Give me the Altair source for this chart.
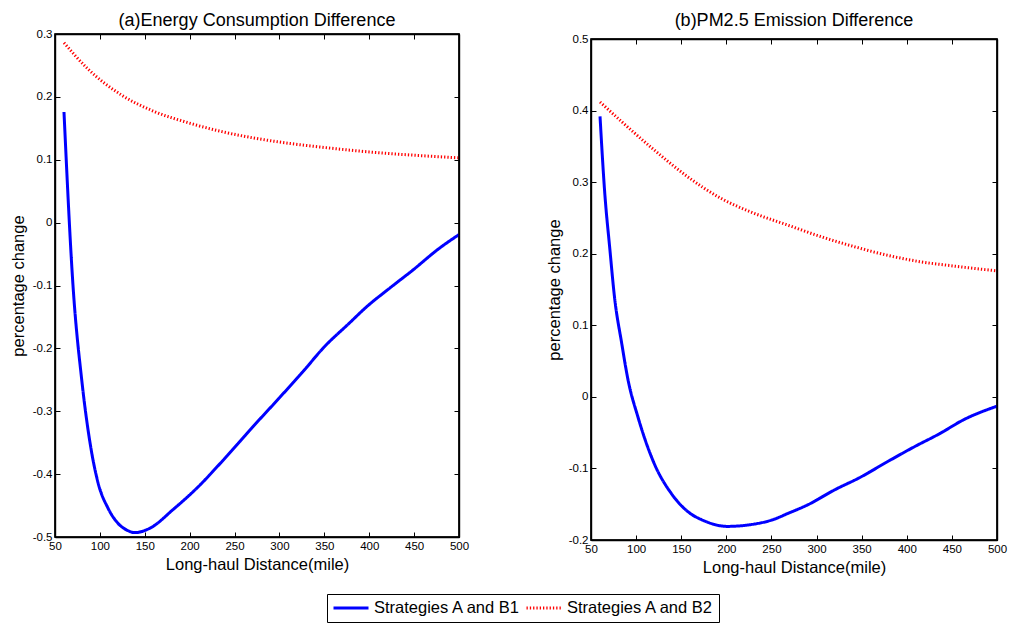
import altair as alt
import pandas as pd

FONT = "Liberation Sans"
series_names = ["Strategies A and B1", "Strategies A and B2"]
series_colors = ["#0000ff", "#ff0000"]

x_domain = [50, 500]
x_ticks = [50, 100, 150, 200, 250, 300, 350, 400, 450, 500]
y_domain_a = [-0.5, 0.3]
y_ticks_a = [-0.5, -0.4, -0.3, -0.2, -0.1, 0, 0.1, 0.2, 0.3]
y_domain_b = [-0.2, 0.5]
y_ticks_b = [-0.2, -0.1, 0, 0.1, 0.2, 0.3, 0.4, 0.5]

# (a) Energy consumption difference
a_b1_x = [60, 70, 80, 89, 98, 109, 120, 130, 139, 157, 181, 211, 234, 256, 269, 301, 328, 349, 377, 397, 423, 449, 477, 500]
a_b1_y = [0.176, -0.099, -0.253, -0.350, -0.414, -0.454, -0.478, -0.489, -0.493, -0.485, -0.457, -0.418, -0.383, -0.348, -0.327, -0.277, -0.234, -0.199, -0.161, -0.134, -0.104, -0.075, -0.042, -0.019]
a_b2_x = [60, 87, 124, 161, 198, 236, 273, 310, 347, 384, 421, 458, 500]
a_b2_y = [0.286, 0.244, 0.203, 0.1765, 0.159, 0.1447, 0.1342, 0.1262, 0.120, 0.1145, 0.110, 0.1065, 0.103]

# (b) PM2.5 emission difference
b_b1_x = [60, 65, 71, 76, 84, 91, 102, 120, 139, 157, 176, 201, 224, 253, 268, 290, 320, 349, 378, 408, 437, 463, 500]
b_b1_y = [0.392, 0.289, 0.205, 0.140, 0.075, 0.024, -0.028, -0.093, -0.135, -0.160, -0.1735, -0.181, -0.179, -0.171, -0.163, -0.151, -0.130, -0.112, -0.091, -0.070, -0.051, -0.032, -0.013]
b_b2_x = [60, 84, 120, 157, 194, 231, 268, 305, 342, 378, 415, 452, 500]
b_b2_y = [0.412, 0.3845, 0.345, 0.3076, 0.2774, 0.2564, 0.240, 0.2238, 0.2098, 0.198, 0.1888, 0.1828, 0.176]


def make_df(bx, by, rx, ry):
    rows = [{"d": x, "v": y, "s": series_names[0]} for x, y in zip(bx, by)]
    rows += [{"d": x, "v": y, "s": series_names[1]} for x, y in zip(rx, ry)]
    return pd.DataFrame(rows)


label_expr = "datum.value == 0 ? '0' : (datum.value < 0 ? '-' : '') + format(abs(datum.value), '.1f')"

legend = alt.Legend(
    title=None, orient="none", legendX=272, legendY=564, direction="horizontal",
    symbolType="stroke", symbolSize=1225, symbolStrokeWidth=3, clipHeight=18,
    labelFont=FONT, labelFontSize=16.5, labelColor="black", labelOffset=4,
    columnPadding=4, strokeColor="black", fillColor="white", padding=5,
)

frame = alt.ViewBackground(stroke="black", strokeWidth=1.4)
no_frame = alt.ViewBackground(stroke="transparent")
dummy = pd.DataFrame({"z": [0]})


def panel(df, ydom, yticks, w, h):
    color = alt.Color("s:N", scale=alt.Scale(domain=series_names, range=series_colors), legend=legend)
    dash = alt.StrokeDash("s:N", scale=alt.Scale(domain=series_names, range=[[1, 0], [1.3, 2]]), legend=legend)
    xs = alt.Scale(domain=x_domain, nice=False, zero=False)
    ys = alt.Scale(domain=ydom, nice=False, zero=False)
    common = dict(grid=False, domain=False, ticks=True, tickSize=5, offset=-5, tickColor="black",
                  tickWidth=1, labelFlush=False, labelOverlap=False, labelBound=False,
                  labelFont=FONT, titleFont=FONT, labelColor="black", titleColor="black",
                  titleFontWeight="normal", labelFontSize=11.5, titleFontSize=16.5)
    ax_b = alt.Axis(orient="bottom", values=x_ticks, format="d", title="Long-haul Distance(mile)",
                    labelPadding=3, titlePadding=5, **common)
    ax_t = alt.Axis(orient="top", values=x_ticks, labels=False, title=None, **common)
    ax_l = alt.Axis(orient="left", values=yticks, labelExpr=label_expr, title="percentage change",
                    labelPadding=3, titlePadding=6, **common)
    ax_r = alt.Axis(orient="right", values=yticks, labels=False, title=None, **common)
    # domain-only axes that outline the plot area
    edge = dict(grid=False, domain=True, domainColor="black", domainWidth=1.4, ticks=False,
                labels=False, title=None, offset=0)
    base = alt.Chart(df)
    blue = base.transform_filter(alt.datum.s == series_names[0]).mark_line(strokeWidth=3, interpolate="monotone").encode(
        x=alt.X("d:Q", scale=xs, axis=ax_b), y=alt.Y("v:Q", scale=ys, axis=ax_l),
        color=color, strokeDash=dash, order=alt.Order("d:Q"))
    red = base.transform_filter(alt.datum.s == series_names[1]).mark_line(strokeWidth=3, interpolate="monotone").encode(
        x=alt.X("d:Q", scale=xs, axis=ax_t), y=alt.Y("v:Q", scale=ys, axis=ax_r),
        color=color, strokeDash=dash, order=alt.Order("d:Q"))
    edges_bl = base.mark_point(opacity=0, size=1).encode(
        x=alt.X("d:Q", axis=alt.Axis(orient="bottom", **edge)),
        y=alt.Y("v:Q", axis=alt.Axis(orient="left", **edge)))
    edges_tr = base.mark_point(opacity=0, size=1).encode(
        x=alt.X("d:Q", axis=alt.Axis(orient="top", **edge)),
        y=alt.Y("v:Q", axis=alt.Axis(orient="right", **edge)))
    box_df = pd.DataFrame({
        "fx": [x_domain[0], x_domain[0], x_domain[1], x_domain[1], x_domain[0]],
        "fy": [ydom[0], ydom[1], ydom[1], ydom[0], ydom[0]],
        "k": [0, 1, 2, 3, 4],
    })
    box = alt.Chart(box_df).mark_line(color="black", strokeWidth=1.4, strokeCap="square").encode(
        x=alt.X("fx:Q", axis=None), y=alt.Y("fy:Q", axis=None), order=alt.Order("k:Q"))
    return alt.layer(blue, red, edges_bl, edges_tr, box).resolve_axis(
        x="independent", y="independent").properties(width=w, height=h, view=frame)


def title_block(text, w):
    return alt.Chart(dummy).mark_point(size=1, opacity=0, filled=True).properties(
        width=w, height=1, view=no_frame,
        title=alt.TitleParams(text, font=FONT, fontSize=18, fontWeight="normal", color="black",
                              anchor="middle", frame="group", offset=0))


col_a = alt.vconcat(title_block("(a)Energy Consumption Difference", 404),
                    panel(make_df(a_b1_x, a_b1_y, a_b2_x, a_b2_y), y_domain_a, y_ticks_a, 404, 503),
                    spacing=-5)
col_b = alt.vconcat(title_block("(b)PM2.5 Emission Difference", 406),
                    panel(make_df(b_b1_x, b_b1_y, b_b2_x, b_b2_y), y_domain_b, y_ticks_b, 406, 501),
                    spacing=0)

chart = alt.hconcat(col_a, col_b, spacing=75).resolve_scale(
    color="shared", strokeDash="shared"
).properties(
    padding={"left": 9, "top": 11, "right": 0, "bottom": 0}
).configure(background="white").configure_view(stroke="transparent")

chart.save("out.html", embed_options={"renderer": "svg", "actions": False})
